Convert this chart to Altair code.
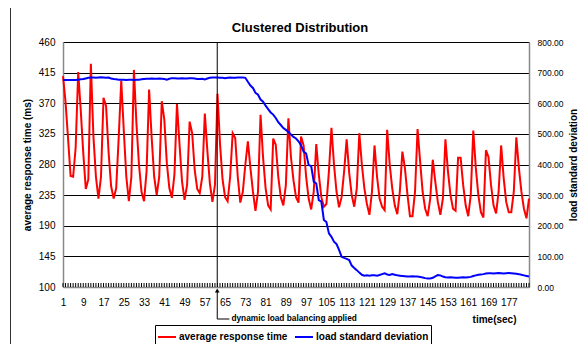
import altair as alt
import pandas as pd

FONT = "Liberation Sans"

time_sec = list(range(1, 186))

avg_response_ms = [
    410, 372, 318, 263, 262, 305, 416, 360, 297, 244,
    258, 428, 322, 262, 230, 262, 378, 366, 298, 248,
    230, 245, 320, 403, 330, 262, 226, 262, 419, 340,
    280, 240, 226, 270, 390, 320, 262, 235, 262, 373,
    346, 282, 245, 231, 265, 369, 310, 255, 228, 250,
    343, 326, 272, 244, 238, 262, 355, 300, 252, 225,
    250, 384, 310, 258, 232, 226, 262, 326, 319, 262,
    224, 240, 280, 314, 275, 240, 212, 240, 353, 290,
    245, 220, 214, 318, 309, 262, 232, 220, 250, 348,
    291, 257, 232, 224, 321, 308, 262, 230, 214, 240,
    310, 265, 232, 218, 222, 270, 334, 280, 240, 217,
    232, 270, 317, 268, 235, 218, 245, 326, 280, 245,
    222, 206, 240, 308, 262, 230, 218, 213, 331, 280,
    245, 220, 207, 240, 299, 275, 236, 204, 204, 240,
    332, 285, 240, 215, 204, 230, 287, 255, 225, 206,
    230, 317, 270, 235, 215, 212, 290, 290, 250, 220,
    204, 235, 330, 275, 235, 210, 202, 301, 291, 250,
    220, 208, 240, 308, 260, 225, 210, 210, 240, 320,
    275, 240, 215, 201, 230,
]

load_std_dev = [
    676, 676, 676, 676, 676, 676, 677, 678, 679, 681,
    683, 684, 684, 683, 684, 685, 684, 683, 684, 681,
    679, 678, 677, 677, 677, 676, 677, 677, 676, 677,
    677, 678, 679, 680, 680, 681, 680, 680, 681, 680,
    679, 677, 680, 682, 682, 681, 681, 682, 681, 681,
    682, 682, 681, 679, 679, 680, 678, 681, 683, 684,
    684, 684, 683, 683, 682, 683, 684, 683, 683, 684,
    684, 684, 683, 670, 658, 650, 634, 628, 612, 605,
    592, 581, 570, 563, 552, 538, 529, 519, 513, 506,
    498, 490, 485, 476, 462, 442, 436, 398, 395, 344,
    338, 284, 279, 219, 212, 175, 164, 148, 140, 121,
    99, 95, 92, 88, 70, 62, 55, 47, 40, 37,
    38, 37, 38, 38, 37, 39, 42, 45, 41, 39,
    42, 40, 38, 37, 36, 35, 34, 34, 35, 34,
    34, 33, 31, 29, 28, 28, 30, 35, 39, 38,
    34, 32, 31, 32, 31, 30, 30, 31, 32, 31,
    32, 33, 36, 38, 40, 41, 42, 44, 45, 45,
    44, 45, 46, 45, 44, 45, 46, 45, 44, 43,
    42, 40, 38, 36, 34,
]

x_tick_labels = [1, 9, 17, 25, 33, 41, 49, 57, 65, 73, 81, 89, 97, 105,
                 113, 121, 129, 137, 145, 153, 161, 169, 177]
left_ticks = [100, 145, 190, 235, 280, 325, 370, 415, 460]
right_ticks = [0, 100, 200, 300, 400, 500, 600, 700, 800]
series_names = ["average response time", "load standard deviation"]
series_colors = ["#FF0000", "#0000FF"]
balancing_time = [61.9]
balancing_arm_end = [66.7]
annotation_x = [67.5]
annotation_text = ["dynamic load balancing applied"]
chart_title = ["Clustered Distribution"]

resp_df = pd.DataFrame({"t": time_sec, "v": avg_response_ms, "series": series_names[0]})
dev_df = pd.DataFrame({"t": time_sec, "v": load_std_dev, "series": series_names[1]})
tick_df = pd.DataFrame({"t": time_sec})
bal_df = pd.DataFrame({"t": balancing_time, "t2": balancing_arm_end})
ann_df = pd.DataFrame({"t": annotation_x, "label": annotation_text})
title_df = pd.DataFrame({"label": chart_title})
frame_df = pd.DataFrame({"a": [0]})

xscale = alt.Scale(domain=[1, 185], nice=False, zero=False)
xaxis = alt.Axis(values=x_tick_labels, title="time(sec)", grid=False, ticks=False,
                 labelPadding=10, labelFontSize=10, labelOverlap=False, labelFlush=False,
                 domainWidth=1.5, titleFontSize=10, titleX=453, titleY=35,
                 titleAlign="right", titleBaseline="alphabetic")

color = alt.Color(
    "series:N",
    scale=alt.Scale(domain=series_names, range=series_colors),
    legend=alt.Legend(title=None, orient="none", legendX=92, legendY=283,
                      direction="horizontal", symbolType="stroke", symbolSize=324,
                      symbolStrokeWidth=2, labelFont=FONT, labelFontSize=10,
                      labelFontWeight="bold", labelColor="black", strokeColor="black",
                      fillColor="white", padding=2, columnPadding=3, labelOffset=2),
)

frame = alt.Chart(frame_df).mark_rect(fillOpacity=0, stroke="#333333", strokeWidth=1).encode(
    x=alt.value(-52.5), x2=alt.value(540), y=alt.value(-36.5), y2=alt.value(320)
)

title = alt.Chart(title_df).mark_text(align="center", baseline="alphabetic", font=FONT,
                                      fontSize=13, fontWeight="bold", color="black").encode(
    x=alt.value(237), y=alt.value(-10), text="label:N"
)

ticks = alt.Chart(tick_df).mark_rule(color="black", strokeWidth=1).encode(
    x=alt.X("t:Q", scale=xscale, axis=xaxis), y=alt.value(241), y2=alt.value(245)
)

red = alt.Chart(resp_df).mark_line(strokeWidth=2).encode(
    x=alt.X("t:Q", scale=xscale, axis=xaxis),
    y=alt.Y("v:Q", scale=alt.Scale(domain=[100, 460], nice=False, zero=False),
            axis=alt.Axis(orient="left", values=left_ticks, grid=True, gridColor="#000000",
                          gridWidth=1, ticks=False, labelPadding=8, labelFontSize=10,
                          domainWidth=1.5, title="average response time (ms)",
                          titleFontSize=10, titleX=-36, titleY=122.5, titleAngle=270,
                          titleAlign="center", titleBaseline="middle")),
    color=color,
)

blue = alt.Chart(dev_df).mark_line(strokeWidth=2).encode(
    x=alt.X("t:Q", scale=xscale, axis=xaxis),
    y=alt.Y("v:Q", scale=alt.Scale(domain=[0, 800], nice=False, zero=False),
            axis=alt.Axis(orient="right", values=right_ticks, format=".2f", grid=False,
                          ticks=False, labelPadding=8, labelFontSize=8.5, domainWidth=1.5,
                          title="load standard deviation", titleFontSize=10, titleX=44,
                          titleY=122.5, titleAngle=270, titleAlign="center",
                          titleBaseline="middle")),
    color=color,
)

vline = alt.Chart(bal_df).mark_rule(color="black", strokeWidth=1).encode(
    x=alt.X("t:Q", scale=xscale, axis=xaxis), y=alt.value(0), y2=alt.value(245)
)
arrow_stem = alt.Chart(bal_df).mark_rule(color="black", strokeWidth=1).encode(
    x=alt.X("t:Q", scale=xscale, axis=xaxis), y=alt.value(248), y2=alt.value(277)
)
arrow_arm = alt.Chart(bal_df).mark_rule(color="black", strokeWidth=1).encode(
    x=alt.X("t:Q", scale=xscale, axis=xaxis), x2="t2:Q", y=alt.value(277)
)
arrow_head = alt.Chart(bal_df).mark_point(shape="triangle-up", filled=True, size=22,
                                          color="black", opacity=1).encode(
    x=alt.X("t:Q", scale=xscale, axis=xaxis), y=alt.value(248.5)
)
ann = alt.Chart(ann_df).mark_text(align="left", baseline="middle", font=FONT, fontSize=8.3,
                                  fontWeight="bold", color="black").encode(
    x=alt.X("t:Q", scale=xscale, axis=xaxis), y=alt.value(277), text="label:N"
)

chart = alt.layer(frame, title, red, blue, vline, ticks, arrow_stem, arrow_arm, arrow_head,
                  ann).resolve_scale(
    y="independent"
).properties(
    width=466,
    height=245,
    autosize=alt.AutoSizeParams(type="none"),
    padding={"left": 55, "top": 34, "right": 49, "bottom": 57},
).configure_view(
    stroke="black", strokeWidth=1
).configure_axis(
    labelFont=FONT, titleFont=FONT, labelColor="black", titleColor="black",
    domainColor="black", labelFontWeight="bold", titleFontWeight="bold"
).configure(background="white")

chart.save("out.html", embed_options={"renderer": "svg", "actions": False})
